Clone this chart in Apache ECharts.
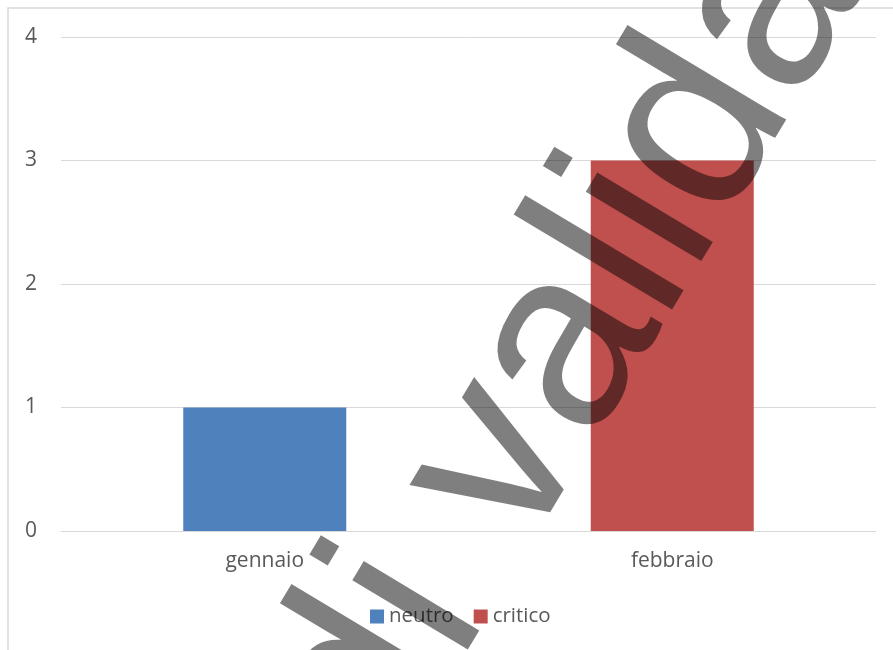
<!DOCTYPE html>
<html>
<head>
<meta charset="utf-8">
<script src="https://cdn.jsdelivr.net/npm/echarts@6/dist/echarts.min.js"></script>
<style>
html,body{margin:0;padding:0;background:#fff;}
#chart{width:893px;height:650px;}
</style>
</head>
<body>
<div id="chart"></div>
<script>
const categories = ['gennaio', 'febbraio'];
const neutroValues = [1, 0];
const criticoValues = [0, 3];
const seriesNames = ['neutro', 'critico'];
const yTicks = [0, 1, 2, 3, 4];
const watermarkText = 'di valida';

const chart = echarts.init(document.getElementById('chart'), null, {renderer: 'canvas'});
const theta = 59 * Math.PI / 180;
const labelFont = '"Open Sans", sans-serif';

chart.setOption({
  animation: false,
  backgroundColor: '#ffffff',
  grid: {left: 61, right: 17, top: 37, bottom: 119, containLabel: false},
  legend: {
    data: seriesNames,
    left: 370, top: 606,
    itemWidth: 14, itemHeight: 14, itemGap: 20,
    icon: 'rect',
    textStyle: {fontFamily: labelFont, fontSize: 20.5, color: '#595959', padding: [0, 0, 0, 0]},
    padding: 0
  },
  xAxis: {
    type: 'category',
    data: categories,
    axisTick: {show: false},
    axisLine: {show: true, lineStyle: {color: '#d9d9d9', width: 1}},
    axisLabel: {fontFamily: labelFont, fontSize: 21, color: '#595959', margin: 20}
  },
  yAxis: {
    type: 'value',
    min: yTicks[0], max: yTicks[yTicks.length - 1], interval: 1,
    axisLine: {show: false},
    axisTick: {show: false},
    splitLine: {lineStyle: {color: '#d9d9d9', width: 1}},
    axisLabel: {fontFamily: labelFont, fontSize: 21, color: '#595959', margin: 24}
  },
  series: [
    {name: seriesNames[0], type: 'bar', stack: 'all', data: neutroValues, barWidth: '40%', itemStyle: {color: '#4F81BD'}},
    {name: seriesNames[1], type: 'bar', stack: 'all', data: criticoValues, barWidth: '40%', itemStyle: {color: '#C0504D'}}
  ],
  graphic: [
    {type: 'rect', z: -1, silent: true, shape: {x: 8, y: 8, width: 950, height: 700},
     style: {fill: 'none', stroke: '#d9d9d9', lineWidth: 1.5}},
    {type: 'text', z: 100, silent: true, x: 325.6, y: 749.7, rotation: theta,
     style: {text: watermarkText, font: '255px "Liberation Sans"', fill: 'rgba(0,0,0,0.5)', align: 'left', verticalAlign: 'middle'}}
  ]
});
</script>
</body>
</html>
